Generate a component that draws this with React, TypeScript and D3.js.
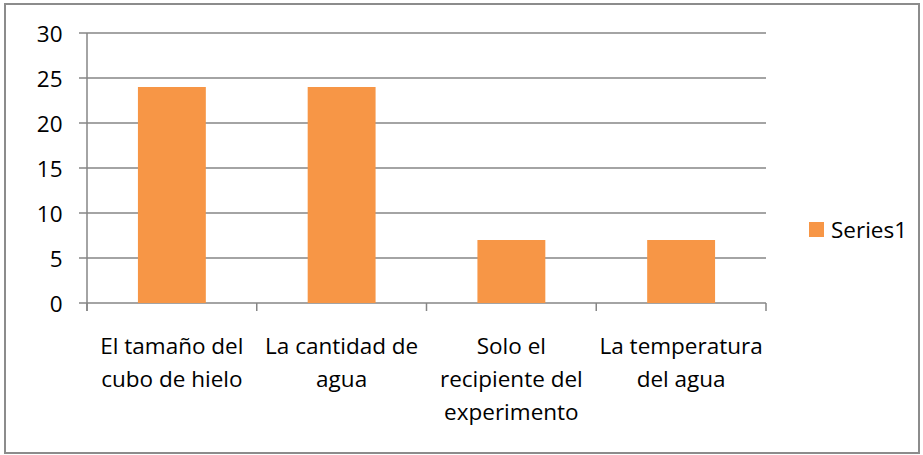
import React from "react";
import * as d3 from "d3";

const categories = [
  ["El tamaño del", "cubo de hielo"],
  ["La cantidad de", "agua"],
  ["Solo el", "recipiente del", "experimento"],
  ["La temperatura", "del agua"],
];
const values = [24, 24, 7, 7];
const yTicks = [0, 5, 10, 15, 20, 25, 30];
const seriesName = "Series1";

const W = 923;
const H = 455;
const left = 87;
const right = 766;
const top = 33;
const bottom = 303;
const color = "#F79646";
const gridColor = "#868686";
const font = "'Open Sans', Lato, sans-serif";
const fs = 22.5;

export default function App() {
  const x = d3
    .scaleBand<number>()
    .domain(d3.range(categories.length))
    .range([left, right])
    .paddingInner(0.6)
    .paddingOuter(0.3);
  const band = (right - left) / categories.length;
  const y = d3.scaleLinear().domain([0, 30]).range([bottom, top]);

  return (
    <svg
      width={W}
      height={H}
      style={{ position: "absolute", left: 0, top: 0 }}
      fontFamily={font}
    >
      <rect x={0} y={0} width={W} height={H} fill="#fff" />
      <rect x={5} y={4} width={914} height={449} fill="none" stroke="#8c8c8c" strokeWidth={2} />
      {yTicks.map((t) => (
        <g key={t}>
          <line x1={79} x2={right} y1={y(t)} y2={y(t)} stroke={gridColor} strokeWidth={1.5} />
          <text x={62.5} y={y(t)} textAnchor="end" dominantBaseline="central" fontSize={fs} fill="#000">
            {t}
          </text>
        </g>
      ))}
      <line x1={left} x2={left} y1={top} y2={bottom + 8} stroke={gridColor} strokeWidth={1.5} />
      {d3.range(categories.length + 1).map((i) => (
        <line
          key={i}
          x1={left + i * band}
          x2={left + i * band}
          y1={bottom}
          y2={bottom + 8}
          stroke={gridColor}
          strokeWidth={1.5}
        />
      ))}
      {values.map((v, i) => (
        <rect key={i} x={x(i)} y={y(v)} width={x.bandwidth()} height={y(0) - y(v)} fill={color} />
      ))}
      {categories.map((lines, i) => (
        <text
          key={i}
          x={left + (i + 0.5) * band}
          textAnchor="middle"
          fontSize={fs}
          fill="#000"
        >
          {lines.map((l, j) => (
            <tspan key={j} x={left + (i + 0.5) * band} y={345 + j * 33} dominantBaseline="central">
              {l}
            </tspan>
          ))}
        </text>
      ))}
      <rect x={809} y={222} width={15} height={15} fill={color} />
      <text x={831} y={229.5} dominantBaseline="central" fontSize={fs} fill="#000">
        {seriesName}
      </text>
    </svg>
  );
}
